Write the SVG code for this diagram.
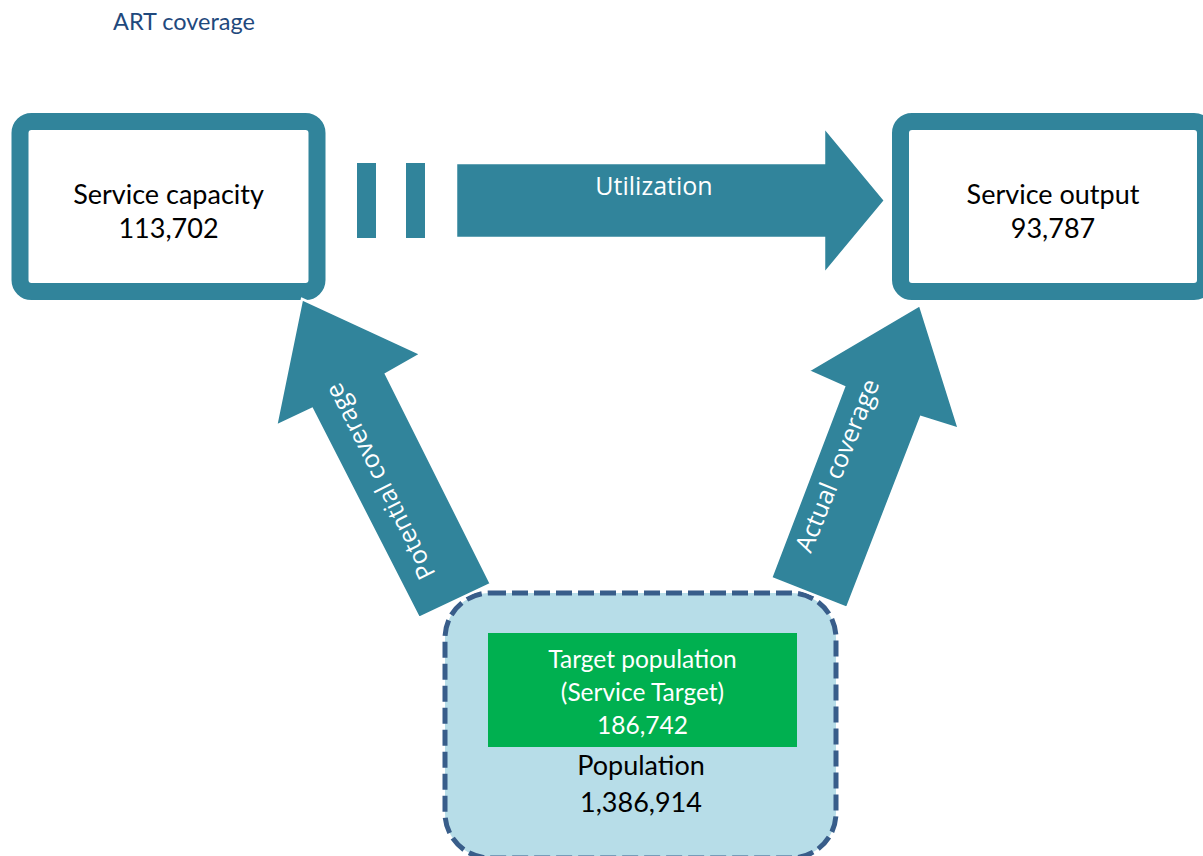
<svg xmlns="http://www.w3.org/2000/svg" width="1203" height="856" viewBox="0 0 1203 856">
  <style>
    .box { fill: #ffffff; stroke: #31849b; stroke-width: 17; }
    .arrow { fill: #31849b; stroke: #ffffff; stroke-width: 2.5; stroke-linejoin: miter; }
    .bar { fill: #31849b; }
    .lbl { font-family: Lato, "Liberation Sans", sans-serif; font-size: 27px; fill: #000000; text-anchor: middle; }
    .tgt { font-family: Lato, "Liberation Sans", sans-serif; font-size: 24.5px; fill: #ffffff; text-anchor: middle; }
    .flow { font-family: "Open Sans", "Liberation Sans", sans-serif; font-size: 25px; fill: #ffffff; text-anchor: middle; }
    .title { font-family: Lato, "Liberation Sans", sans-serif; font-size: 23.5px; fill: #1f497d; }
  </style>

  <text class="title" x="113" y="30">ART coverage</text>

  <!-- service capacity -->
  <g id="service-capacity">
    <rect class="box" x="20" y="121.5" width="297" height="170" rx="11.5"/>
    <text class="lbl" x="168.5" y="204">Service capacity</text>
    <text class="lbl" x="168.5" y="238">113,702</text>
  </g>

  <!-- service output -->
  <g id="service-output">
    <rect class="box" x="900.5" y="121.5" width="305" height="170" rx="11.5"/>
    <text class="lbl" x="1053" y="204">Service output</text>
    <text class="lbl" x="1053" y="238">93,787</text>
  </g>

  <!-- population with target subgroup -->
  <g id="population">
    <rect x="445" y="593" width="391" height="265" rx="45" fill="#b7dde8" stroke="#385d8a" stroke-width="5" stroke-dasharray="16 6"/>
    <rect x="488" y="633" width="309" height="114" fill="#00b050"/>
    <text class="tgt" x="642.5" y="668">Target population</text>
    <text class="tgt" x="642.5" y="701">(Service Target)</text>
    <text class="tgt" x="642.5" y="734">186,742</text>
    <text class="lbl" x="641" y="775">Population</text>
    <text class="lbl" x="641" y="812">1,386,914</text>
  </g>

  <!-- flows between nodes -->
  <g id="connectors">
    <g id="utilization">
      <rect class="bar" x="357" y="163" width="19" height="75"/>
      <rect class="bar" x="406" y="163" width="19" height="75"/>
      <polygon class="arrow" points="456,163 824,163 824,127 885,200.5 824,274 824,238 456,238"/>
      <text class="flow" x="654" y="195">Utilization</text>
    </g>
    <g id="potential-coverage">
      <polygon class="arrow" points="302,299 421,354 386,374 491,584 419,618 312,409 276,426"/>
      <text class="flow" transform="translate(379,482) rotate(-116.5)" dominant-baseline="central">Potential coverage</text>
    </g>
    <g id="actual-coverage">
      <polygon class="arrow" points="920,305 959,429 921,417 847,608 771,578 844,387 808,371"/>
      <text class="flow" transform="translate(836,465) rotate(-68)" dominant-baseline="central">Actual coverage</text>
    </g>
  </g>
</svg>
